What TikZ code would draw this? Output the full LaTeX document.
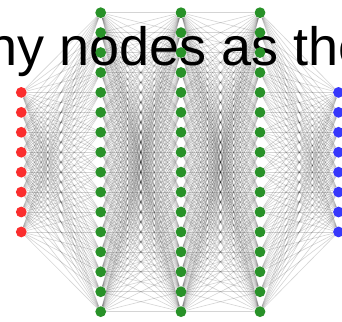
\documentclass[tikz,border=0pt]{standalone}
\usepackage{fontspec}
\setmainfont{Liberation Sans}
\pgfdeclarelayer{edgelayer}
\pgfdeclarelayer{textlayer}
\pgfsetlayers{edgelayer,textlayer,main}
\definecolor{inred}{RGB}{250,45,45}
\definecolor{hidgreen}{RGB}{40,145,40}
\definecolor{outblue}{RGB}{55,55,250}
\tikzset{
  neuron/.style={circle, inner sep=0pt, minimum size=10.8pt, draw=none},
  innode/.style={neuron, fill=inred},
  hidnode/.style={neuron, fill=hidgreen},
  outnode/.style={neuron, fill=outblue},
  synapse/.style={draw=black, line width=0.6pt, opacity=0.17},
  bigtext/.style={anchor=base west, inner sep=0pt, font=\fontsize{54}{60}\selectfont}
}
\begin{document}
\begin{tikzpicture}[x=1pt,y=1pt]
\useasboundingbox (0,0) rectangle (342,-321);
% nodes
\foreach \k in {1,...,8} {
  \node[innode] (r\k) at (21.3, {-(12.7+19.93*(\k+3))}) {};
  \node[outnode] (b\k) at (338.5, {-(12.7+19.93*(\k+3))}) {};
}
\foreach \L/\X in {1/100.7, 2/181, 3/260} {
  \foreach \i in {1,...,16} {
    \node[hidnode] (g\L-\i) at (\X, {-(12.7+19.93*(\i-1))}) {};
  }
}
% text
\begin{pgfonlayer}{textlayer}
\node[bigtext] (title) at (-13,-65) {ny nodes as the};
\end{pgfonlayer}
% edges
\begin{pgfonlayer}{edgelayer}
\foreach \a in {1,...,8} {
  \foreach \i in {1,...,16} {
    \draw[synapse] (r\a) -- (g1-\i);
    \draw[synapse] (g3-\i) -- (b\a);
  }
}
\foreach \i in {1,...,16} {
  \foreach \j in {1,...,16} {
    \draw[synapse] (g1-\i) -- (g2-\j);
    \draw[synapse] (g2-\i) -- (g3-\j);
  }
}
\end{pgfonlayer}
\end{tikzpicture}
\end{document}
